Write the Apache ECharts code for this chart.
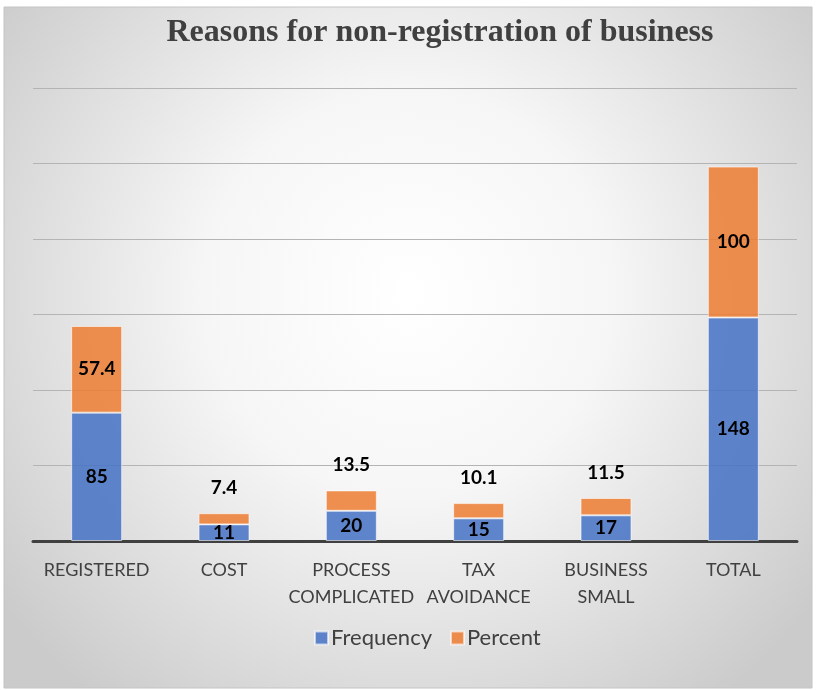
<!DOCTYPE html>
<html><head><meta charset="utf-8">
<script src="https://cdn.jsdelivr.net/npm/echarts@6/dist/echarts.min.js"></script>
<style>html,body{margin:0;padding:0;background:#fff}#c{width:816px;height:691px}</style>
</head><body><div id="c"></div>
<script>
const categories = ['REGISTERED', 'COST', 'PROCESS\nCOMPLICATED', 'TAX\nAVOIDANCE', 'BUSINESS\nSMALL', 'TOTAL'];
const frequency = [85, 11, 20, 15, 17, 148];
const percent = [57.4, 7.4, 13.5, 10.1, 11.5, 100];
const titleText = 'Reasons for non-registration of business';

const chart = echarts.init(document.getElementById('c'));
const labelFont = {fontFamily: 'Lato', fontWeight: 'bold', fontSize: 19, color: '#000'};
chart.setOption({
  backgroundColor: '#fff',
  animation: false,
  graphic: [
    {type: 'rect', z: -100, shape: {x: 4, y: 7, width: 808, height: 681},
     style: {fill: {type: 'radial', x: 0.5, y: 0.42, r: 0.75, colorStops: [
       {offset: 0, color: '#ffffff'}, {offset: 0.4, color: '#f6f6f6'}, {offset: 1, color: '#cbcbcb'}]},
       stroke: '#c4c4c4', lineWidth: 1}},
    {type: 'text', z: 10, x: 440, y: 33,
     style: {text: titleText, textAlign: 'center', textVerticalAlign: 'middle',
       fontFamily: 'Liberation Serif', fontWeight: 'bold', fontSize: 32, fill: '#404040'}}
  ],
  legend: {
    bottom: 37, left: 309, itemWidth: 13, itemHeight: 13, itemGap: 18,
    icon: 'rect',
    textStyle: {fontFamily: 'Lato', fontSize: 22, color: '#404040', padding: [0, 0, 0, -2]},
    data: ['Frequency', 'Percent']
  },
  grid: {left: 33, right: 19, top: 88, bottom: 150, containLabel: false},
  xAxis: {
    type: 'category', data: categories,
    axisLine: {lineStyle: {color: '#404040', width: 3}},
    axisTick: {show: false},
    axisLabel: {interval: 0, fontFamily: 'Lato', fontSize: 18, color: '#404040', margin: 16, lineHeight: 27}
  },
  yAxis: {
    type: 'value', min: 0, max: 300, interval: 50,
    axisLabel: {show: false}, axisLine: {show: false}, axisTick: {show: false},
    splitLine: {lineStyle: {color: '#b4b4b4', width: 1}}
  },
  series: [
    {name: 'Frequency', type: 'bar', stack: 's', barWidth: 51,
     itemStyle: {color: 'rgba(68,114,196,0.85)', borderColor: 'rgba(255,255,255,0.6)', borderWidth: 1},
     label: Object.assign({show: true, position: 'inside'}, labelFont),
     data: frequency},
    {name: 'Percent', type: 'bar', stack: 's', barWidth: 51,
     itemStyle: {color: 'rgba(237,125,49,0.85)', borderColor: 'rgba(255,255,255,0.6)', borderWidth: 1},
     label: Object.assign({show: true, position: 'inside'}, labelFont),
     data: percent.map(v => v < 30 ? {value: v, label: {position: 'top', distance: 16}} : v)}
  ]
});
</script></body></html>
